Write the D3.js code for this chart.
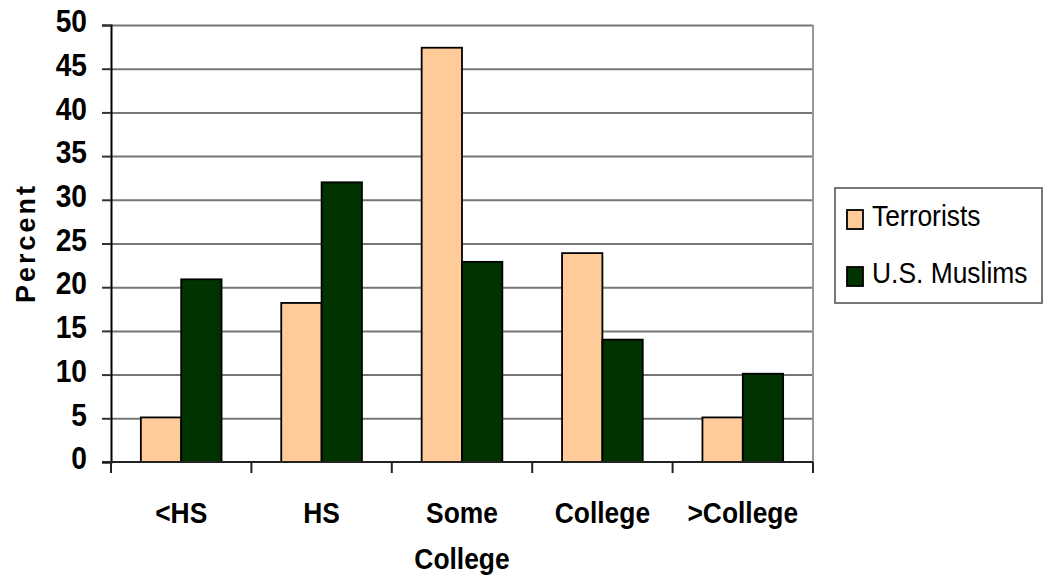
<!DOCTYPE html>
<html>
<head>
<meta charset="utf-8">
<script src="https://cdn.jsdelivr.net/npm/d3@7"></script>
<style>
  body { margin: 0; background: #fff; }
  text { font-family: "Liberation Sans", Arial, sans-serif; }
</style>
</head>
<body>
<svg id="chart"></svg>
<script>
// data
let categories = ["<HS", "HS", "Some College", "College", ">College"];
let seriesNames = ["Terrorists", "U.S. Muslims"];
let terrorists = [5.1, 18.2, 47.4, 23.9, 5.1];
let usMuslims = [20.9, 32.0, 22.9, 14.0, 10.1];
let yTicks = [0, 5, 10, 15, 20, 25, 30, 35, 40, 45, 50];
let colors = ["#ffcc99", "#003300"];

// the source font is narrow, so squeeze text horizontally
let squeeze = 0.88;

//config
function getConfig(){
    let width = 1046;
    let height = 581;
    let margin = { top: 25, bottom: 119, left: 111, right: 233 };
    let bodyHeight = height - margin.top - margin.bottom;
    let bodyWidth = width - margin.left - margin.right;
    let container = d3.select('#chart')
        .attr('width', width)
        .attr('height', height);
    container.append('rect')
        .attr('width', width).attr('height', height).attr('fill', '#fff');
    return { width, height, margin, bodyHeight, bodyWidth, container };
}

//scales
function getScales(config){
    let x0 = d3.scaleBand()
        .domain(categories)
        .range([0, config.bodyWidth])
        .padding(0);
    let x1 = d3.scaleBand()
        .domain(seriesNames)
        .range([0, x0.bandwidth()])
        .paddingInner(0)
        .paddingOuter(0.74);
    let y = d3.scaleLinear()
        .domain([0, 50])
        .range([config.bodyHeight, 0]);
    return { x0, x1, y };
}

function drawGrid(scales, config){
    let { y } = scales;
    let { container, margin, bodyWidth } = config;
    let grid = container.append('g')
        .attr('transform', `translate(${margin.left},${margin.top})`)
        .call(d3.axisLeft(y).tickValues(yTicks.slice(1)).tickSize(-bodyWidth).tickFormat(''));
    grid.select('.domain').remove();
    grid.selectAll('line')
        .attr('stroke', '#777')
        .attr('stroke-width', 2);
    // right border of plot area
    container.append('line')
        .attr('x1', margin.left + bodyWidth).attr('x2', margin.left + bodyWidth)
        .attr('y1', margin.top + y(50)).attr('y2', margin.top + y(0))
        .attr('stroke', '#999').attr('stroke-width', 2);
}

function drawBars(scales, config){
    let { x0, x1, y } = scales;
    let { container, margin } = config;
    let rows = categories.map((c, i) => ({
        cat: c,
        values: [terrorists[i], usMuslims[i]]
    }));
    let body = container.append('g')
        .attr('transform', `translate(${margin.left},${margin.top})`);
    let groups = body.selectAll('.grp')
        .data(rows)
        .enter().append('g')
        .attr('transform', d => `translate(${x0(d.cat)},0)`);
    groups.selectAll('rect')
        .data(d => d.values.map((v, j) => ({ name: seriesNames[j], v, j })))
        .enter().append('rect')
        .attr('x', d => x1(d.name))
        .attr('width', x1.bandwidth())
        .attr('y', d => y(d.v))
        .attr('height', d => y(0) - y(d.v))
        .attr('fill', d => colors[d.j])
        .attr('stroke', '#000')
        .attr('stroke-width', 1.8);
}

function drawAxes(scales, config){
    let { x0, y } = scales;
    let { container, margin, bodyHeight, bodyWidth } = config;

    let axisY = d3.axisLeft(y).tickValues(yTicks).tickSize(9);
    let gy = container.append('g')
        .attr('transform', `translate(${margin.left},${margin.top})`)
        .call(axisY);
    gy.select('.domain').attr('stroke', '#000').attr('stroke-width', 2);
    gy.selectAll('line').attr('stroke', '#333').attr('stroke-width', 2);
    gy.selectAll('text')
        .attr('x', -24 / squeeze)
        .attr('dy', '0.35em')
        .attr('y', -4.5)
        .attr('transform', `scale(${squeeze},1)`)
        .attr('fill', '#000')
        .style('font-size', '32px')
        .style('font-weight', 'bold');

    // baseline and category boundary ticks
    let bounds = categories.map(c => x0(c)).concat([bodyWidth]);
    let gx = container.append('g')
        .attr('transform', `translate(${margin.left},${margin.top + bodyHeight})`);
    gx.append('line')
        .attr('x1', -9).attr('x2', bodyWidth)
        .attr('stroke', '#222').attr('stroke-width', 2);
    gx.selectAll('.bt')
        .data(bounds)
        .enter().append('line')
        .attr('x1', d => d).attr('x2', d => d)
        .attr('y1', 0).attr('y2', 11)
        .attr('stroke', '#222').attr('stroke-width', 2);

    let axisX = d3.axisBottom(x0).tickSize(0).tickPadding(0);
    let labels = container.append('g')
        .attr('transform', `translate(${margin.left},${margin.top + bodyHeight})`)
        .call(axisX);
    labels.select('.domain').remove();
    labels.selectAll('text')
        .attr('y', 61)
        .attr('dy', null)
        .attr('transform', `scale(${squeeze},1)`)
        .attr('fill', '#000')
        .style('font-size', '30px')
        .style('font-weight', 'bold')
        .each(function(d){
            let words = d === "Some College" ? ["Some", "College"] : [d];
            let t = d3.select(this).text(null);
            words.forEach((w, i) => {
                t.append('tspan')
                    .attr('x', 0)
                    .attr('dy', i === 0 ? 0 : 46)
                    .text(w);
            });
        });

    // y title
    container.append('text')
        .attr('transform', `translate(35,243) rotate(-90)`)
        .attr('text-anchor', 'middle')
        .style('font-size', '27px')
        .style('font-weight', 'bold')
        .style('letter-spacing', '3px')
        .text('Percent');
}

function drawLegend(config){
    let { container } = config;
    let lg = container.append('g').attr('transform', 'translate(835,188)');
    lg.append('rect')
        .attr('width', 207).attr('height', 115)
        .attr('fill', '#fff')
        .attr('stroke', '#777').attr('stroke-width', 2);
    let items = lg.selectAll('.item')
        .data(seriesNames)
        .enter().append('g')
        .attr('transform', (d, i) => `translate(12,${22 + i * 57})`);
    items.append('rect')
        .attr('width', 16).attr('height', 19)
        .attr('fill', (d, i) => colors[i])
        .attr('stroke', '#000').attr('stroke-width', 1.8);
    items.append('text')
        .attr('x', 25 / 0.88).attr('y', 16)
        .attr('transform', 'scale(0.88,1)')
        .attr('fill', '#000')
        .style('font-size', '30px')
        .text(d => d);
}

function drawChart(){
    let config = getConfig();
    let scales = getScales(config);
    drawGrid(scales, config);
    drawBars(scales, config);
    drawAxes(scales, config);
    drawLegend(config);
}
drawChart();
</script>
</body>
</html>
